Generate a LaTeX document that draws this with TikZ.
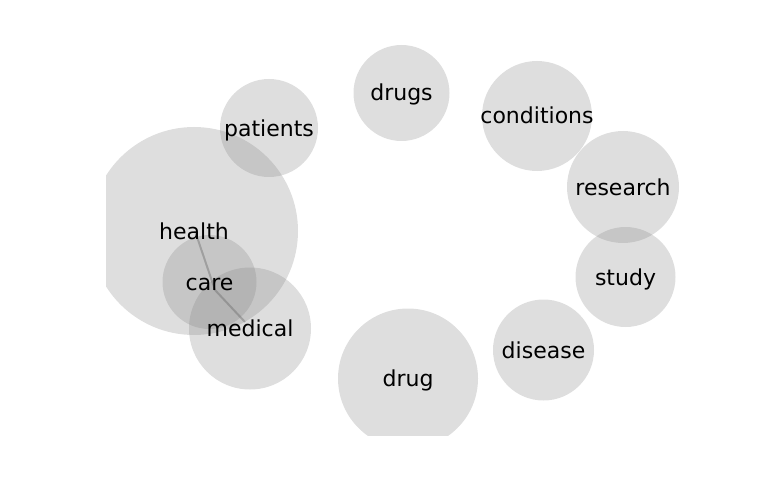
\documentclass[tikz,border=0pt]{standalone}
\usepackage{fontspec}
\setmainfont{DejaVu Sans}
\begin{document}
\begin{tikzpicture}[x=1pt,y=-1pt,
  bubble/.style={circle, fill=black!50, fill opacity=0.26, draw=none, inner sep=0pt, minimum size=#1},
  lbl/.style={anchor=base, yshift=-8pt, inner sep=0pt, font=\fontsize{22}{26}\selectfont, text=black},
  link/.style={draw=black!60, draw opacity=0.4, line width=2pt, line join=round}]
\useasboundingbox (0,0) rectangle (768,500);
\begin{scope}
\clip (106,20) rectangle (700,435);
\node[bubble=208pt] (health) at (194,231) {};
\node[bubble=94pt]  (care) at (209.5,282) {};
\node[bubble=122pt] (medical) at (250,328.5) {};
\node[bubble=98pt]  (patients) at (269,128) {};
\node[bubble=96pt]  (drugs) at (401.5,93) {};
\node[bubble=110pt] (conditions) at (537,116) {};
\node[bubble=112pt] (research) at (623,187) {};
\node[bubble=100pt] (study) at (625.5,277) {};
\node[bubble=101pt] (disease) at (543.5,350) {};
\node[bubble=140pt] (drug) at (408,378.5) {};
\end{scope}
\coordinate (hp) at (195,231);
\coordinate (cp) at (215,290);
\coordinate (mp) at (245,322);
\draw[link] (hp) -- (cp) -- (mp);
\node[lbl] (thealth) at (health.center) {health};
\node[lbl] (tcare) at (care.center) {care};
\node[lbl] (tmedical) at (medical.center) {medical};
\node[lbl] (tpatients) at (patients.center) {patients};
\node[lbl] (tdrugs) at (drugs.center) {drugs};
\node[lbl] (tconditions) at (conditions.center) {conditions};
\node[lbl] (tresearch) at (research.center) {research};
\node[lbl] (tstudy) at (study.center) {study};
\node[lbl] (tdisease) at (disease.center) {disease};
\node[lbl] (tdrug) at (drug.center) {drug};
\end{tikzpicture}
\end{document}
